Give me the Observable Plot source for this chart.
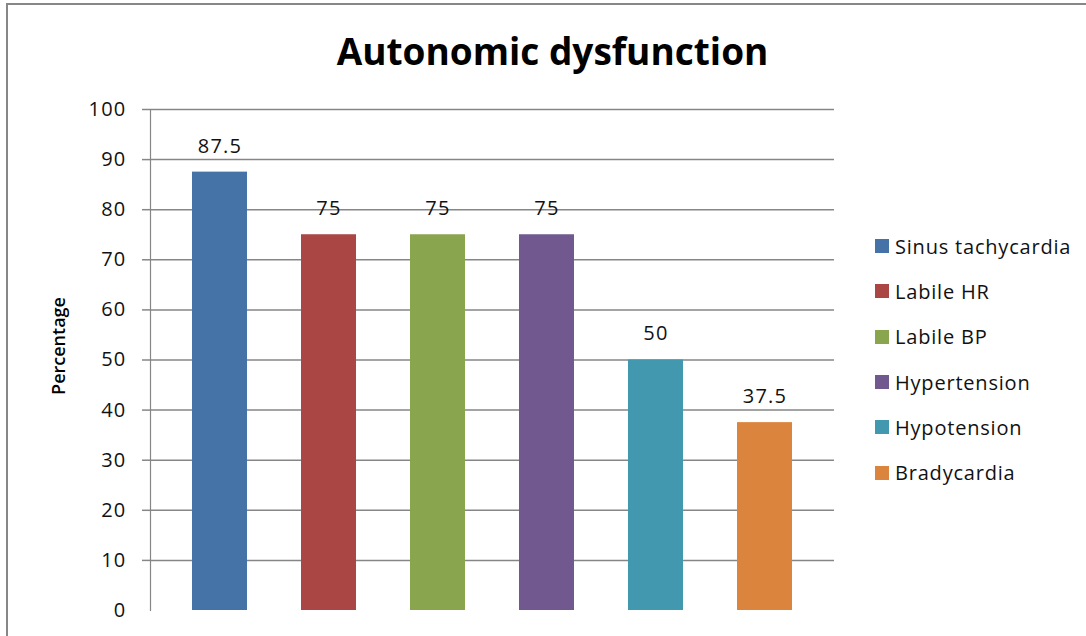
<!DOCTYPE html>
<html>
<head>
<meta charset="utf-8">
<script src="https://cdn.jsdelivr.net/npm/d3@7"></script>
<script src="https://cdn.jsdelivr.net/npm/@observablehq/plot@0.6"></script>
<style>
  html, body { margin: 0; padding: 0; background: #fff; }
  #chart {
    position: relative;
    width: 1086px;
    height: 636px;
    overflow: hidden;
    font-family: "Open Sans", sans-serif;
    color: #111;
  }
  #chart .border {
    position: absolute;
    left: 6px; top: 3px; right: -10px; bottom: -10px;
    border-left: 2.5px solid #878787;
    border-top: 2px solid #878787;
    pointer-events: none;
  }
  #chart svg { position: absolute; left: 0; top: 0; }
  #title {
    position: absolute;
    left: 0; top: 32px; width: 1105px;
    text-align: center;
    font-weight: 700;
    font-size: 37px;
    line-height: 37px;
    color: #000;
  }
  #legend {
    position: absolute;
    left: 875px; top: 223.5px;
  }
  #legend .item {
    display: flex;
    align-items: center;
    height: 45.3px;
    font-size: 20px;
    letter-spacing: 0.8px;
    color: #111;
  }
  #legend .swatch {
    width: 14px; height: 14px;
    margin-right: 6px;
    flex: none;
  }
</style>
</head>
<body>
<div id="chart">
  <div id="title">Autonomic dysfunction</div>
  <div id="legend"></div>
  <div class="border"></div>
</div>
<script>
// Autonomic dysfunction findings, percentage of patients
const categories = ["Sinus tachycardia", "Labile HR", "Labile BP", "Hypertension", "Hypotension", "Bradycardia"];
const values = [87.5, 75, 75, 75, 50, 37.5];
const colors = ["#4572A7", "#AA4643", "#89A54E", "#71588F", "#4198AF", "#DB843D"];
const yTicks = [0, 10, 20, 30, 40, 50, 60, 70, 80, 90, 100];
const yLabel = "Percentage";

const data = categories.map((category, i) => ({category, value: values[i]}));
const gridTicks = yTicks.filter(t => t > 0);
const axisColor = "#868686";

const plot = Plot.plot({
  width: 1086,
  height: 636,
  marginTop: 109,
  marginBottom: 26,
  marginLeft: 150,
  marginRight: 252,
  style: {fontFamily: "'Open Sans', sans-serif", fontSize: "20px", color: "#111", background: "transparent", letterSpacing: "1.2px"},
  x: {domain: categories, paddingInner: 0.5, paddingOuter: 0.37, axis: null},
  y: {domain: [0, 100], axis: null},
  color: {domain: categories, range: colors},
  marks: [
    // horizontal gridlines
    Plot.gridY(gridTicks, {stroke: axisColor, strokeOpacity: 1, strokeWidth: 1.5}),
    // short outward ticks on the value axis
    Plot.axisY(gridTicks, {tickSize: 8, text: null, label: null, stroke: axisColor, strokeWidth: 1.5}),
    // value axis labels
    Plot.axisY(yTicks, {tickSize: 0, tickPadding: 24, fontSize: 20, fill: "#111", label: null}),
    // vertical axis line
    Plot.frame({anchor: "left", stroke: axisColor, strokeWidth: 1.2}),
    Plot.barY(data, {x: "category", y: "value", fill: "category"}),
    Plot.text(data, {x: "category", y: "value", text: d => String(d.value), dy: -26, fontSize: 20, fill: "#111"}),
    // value axis title
    Plot.text([yLabel], {frameAnchor: "left", textAnchor: "middle", rotate: -90, dx: -91, dy: -14, fontSize: 18, fontWeight: 600, fill: "#000"})
  ]
});

// the axis title is set without the extra tracking used for numbers
d3.select(plot).selectAll("text")
  .filter(function () { return this.textContent === yLabel; })
  .style("letter-spacing", "0px");

document.getElementById("chart").insertBefore(plot, document.getElementById("title"));

// legend
const legend = document.getElementById("legend");
categories.forEach((c, i) => {
  const item = document.createElement("div");
  item.className = "item";
  const sw = document.createElement("span");
  sw.className = "swatch";
  sw.style.background = colors[i];
  const label = document.createElement("span");
  label.textContent = c;
  item.appendChild(sw);
  item.appendChild(label);
  legend.appendChild(item);
});
</script>
</body>
</html>
